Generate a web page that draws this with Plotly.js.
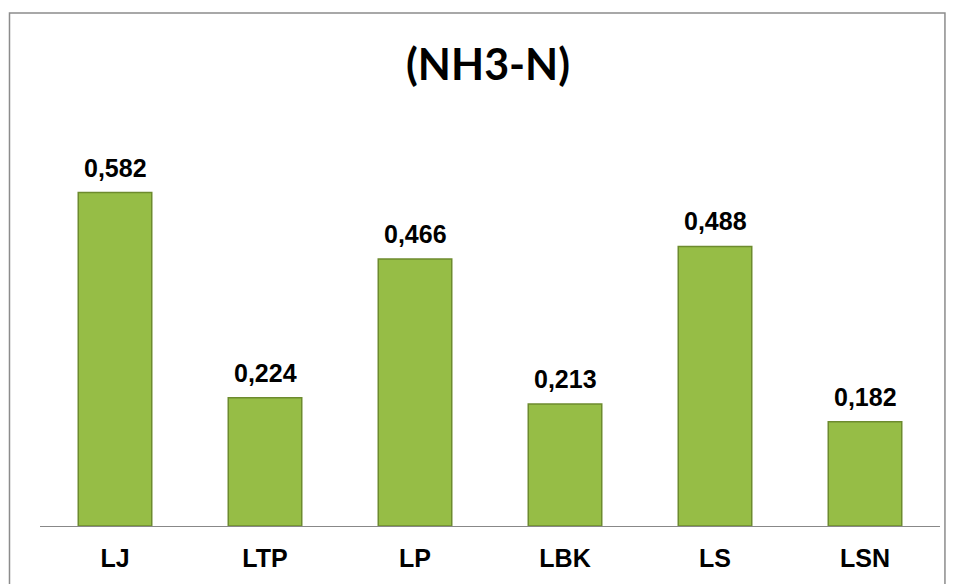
<!DOCTYPE html>
<html>
<head>
<meta charset="utf-8">
<script src="https://cdn.plot.ly/plotly-3.0.1.min.js"></script>
<style>
html,body{margin:0;padding:0;background:#fff;}
#chart{width:957px;height:584px;}
</style>
</head>
<body>
<div id="chart"></div>
<script>
const categories = ["LJ", "LTP", "LP", "LBK", "LS", "LSN"];
const values = [0.582, 0.224, 0.466, 0.213, 0.488, 0.182];
const chartTitle = "(NH3-N)";

const bars = {
  type: "bar",
  x: categories,
  y: values,
  width: 0.49,
  marker: {
    color: "#96bd46",
    line: {color: "#6d8b2e", width: 1.5}
  },
  hoverinfo: "x+y",
  showlegend: false
};

const annotations = categories.map((c, i) => ({
  x: c, y: values[i], xref: "x", yref: "y",
  text: "<b>" + values[i].toFixed(3).replace(".", ",") + "</b>",
  showarrow: false, yanchor: "bottom", yshift: 9,
  font: {family: "Liberation Sans, Arial, sans-serif", size: 25, color: "#000"}
}));

const layout = {
  width: 957, height: 584,
  margin: {l: 39.5, r: 17, t: 125, b: 58, pad: 0},
  paper_bgcolor: "#fff", plot_bgcolor: "#fff",
  separators: ", ",
  title: {
    text: "<b>" + chartTitle + "</b>",
    font: {family: "Lato, Calibri, sans-serif", size: 43, color: "#000", weight: 900},
    x: 0.51, xanchor: "center", y: 0.888, yanchor: "middle"
  },
  xaxis: {
    showline: true, linecolor: "#888", linewidth: 1.3,
    ticks: "outside", ticklen: 10, tickcolor: "rgba(0,0,0,0)",
    tickfont: {family: "Liberation Sans, Arial, sans-serif", size: 25, color: "#000", weight: "bold"},
    showgrid: false, zeroline: false, fixedrange: true
  },
  yaxis: {
    range: [0, 0.7], visible: false, showgrid: false, zeroline: false, fixedrange: true
  },
  annotations: annotations,
  shapes: [{
    type: "rect", xref: "paper", yref: "paper",
    x0: -0.0339, x1: 1.0055, y0: -0.4, y1: 1.279,
    line: {color: "#8c8c8c", width: 1.5}, fillcolor: "rgba(0,0,0,0)", layer: "below"
  }]
};

Plotly.newPlot("chart", [bars], layout, {displayModeBar: false, staticPlot: true});
</script>
</body>
</html>
